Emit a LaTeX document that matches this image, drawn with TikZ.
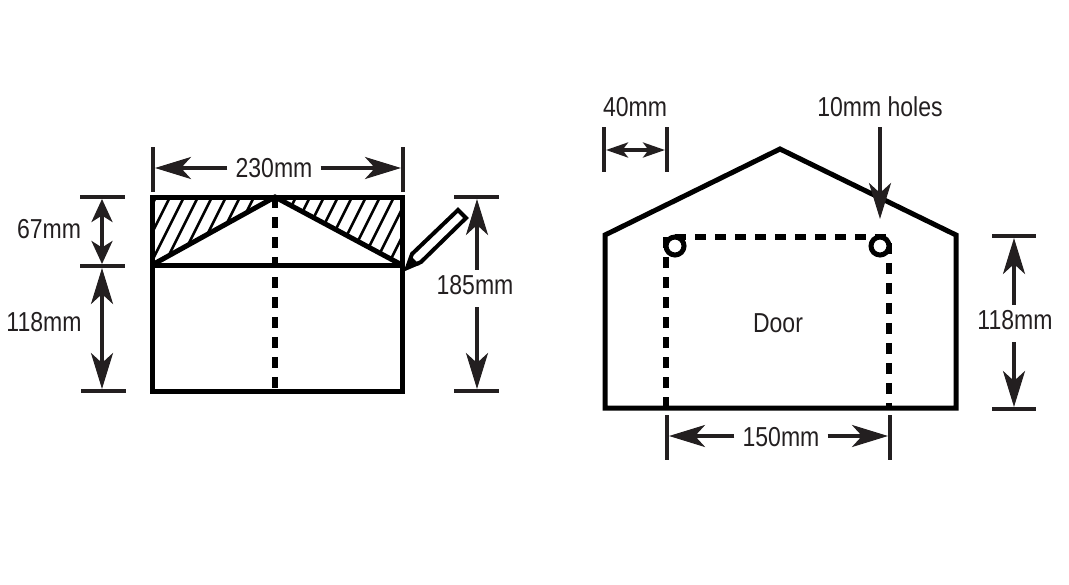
\documentclass[tikz,border=0pt]{standalone}
\usepackage{fontspec}
\setmainfont[FakeStretch=0.84]{Liberation Sans}
\usetikzlibrary{arrows.meta}
\definecolor{inkdark}{HTML}{231F20}
\tikzset{
bigtip/.tip={Stealth[length=.72cm,width=.44cm,inset=.2cm]},
midtip/.tip={Stealth[length=.46cm,width=.42cm,inset=.13cm]},
smalltip/.tip={Stealth[length=.44cm,width=.30cm,inset=.11cm]},
outline/.style={line width=.1cm,draw=black,line join=miter},
dashline/.style={line width=.11cm,draw=black,dash pattern=on .22cm off .18cm},
hatchline/.style={line width=.05cm,draw=black},
tick/.style={line width=.08cm,draw=inkdark},
shaft/.style={line width=.07cm,draw=inkdark},
lowgap/.style={shorten <=.14cm},
dimlabel/.style={font=\fontsize{15.6pt}{17pt}\selectfont,text=inkdark,inner xsep=.16cm,inner ysep=.1cm}
}
\begin{document}
\begin{tikzpicture}[x=.02cm,y=-.02cm]
\useasboundingbox (0,0) rectangle (1069,585);

\coordinate (tl) at (152,197);
\coordinate (tm) at (275,197);
\coordinate (tr) at (402,197);
\coordinate (ml) at (152,265);
\coordinate (mr) at (402,265);
\coordinate (bl) at (152,391);
\coordinate (br) at (402,391);
\coordinate (bm) at (275,388);

\begin{scope}
\clip (tl)--(tm)--(ml)--cycle (tm)--(tr)--(mr)--cycle;
\foreach \i in {0,1,...,21}
{
\draw[hatchline] ({122+14*\i},265)--({156+14*\i},197);
}
\end{scope}

\draw[dashline] (tm)--(bm);
\draw[outline] (tl)--(tr)--(br)--(bl)--cycle;
\draw[outline] (ml)--(mr);
\draw[outline] (ml)--(tm)--(mr);

\coordinate (p0) at (407,268);
\coordinate (p1) at (412,254);
\coordinate (p2) at (458,210);
\coordinate (p3) at (466,218);
\coordinate (p4) at (421,262);
\draw[line width=.08cm,fill=white,line join=miter] (p0)--(p1)--(p2)--(p3)--(p4)--cycle;
\fill (p0)--(410,255)--(420,265)--cycle;

\coordinate (h0) at (605,235);
\coordinate (h1) at (780,149);
\coordinate (h2) at (956,235);
\coordinate (h3) at (956,408);
\coordinate (h4) at (605,408);
\draw[outline] (h0)--(h1)--(h2)--(h3)--(h4)--cycle;

\coordinate (d0) at (666,408);
\coordinate (d1) at (666,237);
\coordinate (d2) at (889,237);
\coordinate (d3) at (889,408);
\draw[dashline] (d0)--(d1)--(d2)--(d3);
\draw[line width=.1cm,fill=white] (675,246) circle (9);
\draw[line width=.1cm,fill=white] (880,246) circle (9);

\node (door) at (778,323) [dimlabel] {Door};

\foreach \x/\ya/\yb in {153/147/192,403/147/192,604/127/172,667/127/172,667/415/460,890/415/460}
{
\draw[tick] (\x,\ya)--(\x,\yb);
}
\foreach \y/\xa/\xb in {197/80/125,266/80/125,391/81/126,197/454/499,391/454/499,236/992/1036,409/992/1036}
{
\draw[tick] (\xa,\y)--(\xb,\y);
}

\node (w230) at (274,168) [dimlabel] {230mm};
\coordinate (w230l) at (155,168);
\coordinate (w230r) at (401,168);
\draw[shaft,-bigtip] (w230)--(w230l);
\draw[shaft,-bigtip] (w230)--(w230r);

\node (h185) at (475,285) [dimlabel] {185mm};
\coordinate (h185t) at (477,199);
\coordinate (h185b) at (477,389);
\draw[shaft,-bigtip] (h185.north-|h185t)--(h185t);
\draw[shaft,lowgap,-bigtip] (h185.south-|h185b)--(h185b);

\node (h118r) at (1015,320) [dimlabel] {118mm};
\coordinate (h118t) at (1014,238);
\coordinate (h118b) at (1014,407);
\draw[shaft,-bigtip] (h118r.north-|h118t)--(h118t);
\draw[shaft,lowgap,-bigtip] (h118r.south-|h118b)--(h118b);

\node (w150) at (781,437) [dimlabel] {150mm};
\coordinate (w150l) at (669,436);
\coordinate (w150r) at (888,436);
\draw[shaft,-bigtip] (w150.west|-w150l)--(w150l);
\draw[shaft,-bigtip] (w150.east|-w150r)--(w150r);

\node (h67) at (49,229) [dimlabel] {67mm};
\coordinate (h67t) at (102,199);
\coordinate (h67b) at (102,264);
\draw[shaft,midtip-midtip] (h67t)--(h67b);

\node (h118l) at (44,322) [dimlabel] {118mm};
\coordinate (h118lt) at (102,268);
\coordinate (h118lb) at (102,389);
\draw[shaft,bigtip-bigtip] (h118lt)--(h118lb);

\node (w40) at (635,107) [dimlabel] {40mm};
\coordinate (w40l) at (606,150);
\coordinate (w40r) at (665,150);
\draw[shaft,smalltip-smalltip] (w40l)--(w40r);

\node (holes) at (880,107) [dimlabel] {10mm holes};
\coordinate (holest) at (880,127);
\coordinate (holesb) at (880,219);
\draw[shaft,-bigtip] (holest)--(holesb);
\end{tikzpicture}
\end{document}
